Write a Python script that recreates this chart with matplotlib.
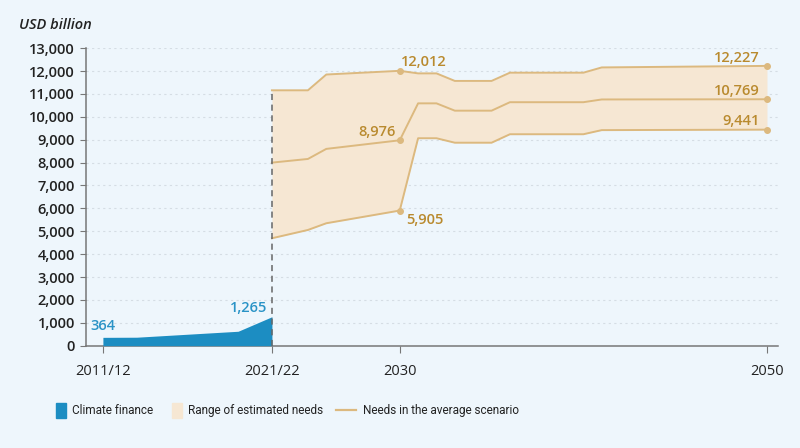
import numpy as np
import matplotlib
matplotlib.use("Agg")
import matplotlib.pyplot as plt
from matplotlib.patches import Rectangle
from matplotlib.lines import Line2D

# climate finance (biennial averages), USD billion
finance_years = [2011.5, 2013.5, 2019.5, 2021.5]
finance_values = [364, 370, 630, 1265]

# estimated needs
needs_years = [2021.5, 2025, 2026, 2030, 2031, 2032, 2033, 2035, 2036, 2040, 2041, 2050]
needs_high = [11160, 11160, 11850, 12012, 11900, 11900, 11570, 11570, 11930, 11930, 12160, 12227]
needs_avg = [8000, 8160, 8600, 8976, 10590, 10590, 10270, 10270, 10640, 10640, 10760, 10769]
needs_low = [4694, 5057, 5350, 5905, 9065, 9065, 8870, 8870, 9240, 9240, 9420, 9441]

tick_years = [2011.5, 2021.5, 2030, 2050]
tick_labels = ["2011/12", "2021/22", "2030", "2050"]

BG = "#eef6fc"
BLUE = "#1c8dc2"
BLUE_TXT = "#2a93c6"
BEIGE = "#f6e7d3"
TAN = "#dcb97f"
GOLD = "#b98a2e"

plt.rcParams["font.family"] = ["Open Sans", "DejaVu Sans"]

# the source axis is not linear in time: map years piecewise
anchors_x = [2000, 2011.5, 2021.5, 2025, 2050, 2060]
anchors_u = [103 - 11.5 * 16.9, 103, 272, 308, 767, 767 + 10 * 18.36]


def fwd(x):
    return np.interp(x, anchors_x, anchors_u)


def inv(u):
    return np.interp(u, anchors_u, anchors_x)


fig = plt.figure(figsize=(8, 4.48), dpi=100, facecolor=BG)
ax = fig.add_axes([0.1075, 0.2284, 0.865, 0.664])
ax.set_facecolor(BG)
ax.set_xscale("function", functions=(fwd, inv))

ax.fill_between(finance_years, 0, finance_values, color=BLUE, lw=0, zorder=3)
ax.fill_between(needs_years, needs_low, needs_high, color=BEIGE, lw=0, zorder=2)
for vals in (needs_high, needs_avg, needs_low):
    ax.plot(needs_years, vals, color=TAN, lw=1.4, zorder=4)
    ax.plot([needs_years[3], needs_years[-1]], [vals[3], vals[-1]], "o",
            color=TAN, ms=4, zorder=5)

ax.plot([2021.5, 2021.5], [0, needs_high[0]], color="#666666", lw=1.1,
        ls=(0, (4, 3)), zorder=6)

ax.set_xlim(2010.5, 2050.6)
ax.set_ylim(0, 13000)
ax.set_yticks(np.arange(0, 13001, 1000))
ax.set_yticklabels([f"{v:,}" for v in range(0, 13001, 1000)])
ax.set_xticks(tick_years)
ax.set_xticklabels(tick_labels)
ax.yaxis.grid(True, color="#d5dde4", lw=0.8, ls=(0, (2, 3)))
ax.set_axisbelow(True)
for s in ("top", "right"):
    ax.spines[s].set_visible(False)
for s in ("left", "bottom"):
    ax.spines[s].set_color("#777777")
    ax.spines[s].set_linewidth(1.1)
ax.tick_params(axis="y", length=4, color="#777777", labelsize=10.5,
               labelcolor="#222222", pad=4)
ax.tick_params(axis="x", length=5, color="#777777", labelsize=10.5,
               labelcolor="#222222", pad=8)
for t in ax.get_yticklabels():
    t.set_fontweight("semibold")

# value labels
lab = dict(fontsize=10.5, fontweight="semibold")
ax.annotate("364", (finance_years[0], finance_values[0]), xytext=(0, 3),
            textcoords="offset points", ha="center", va="bottom", color=BLUE_TXT, **lab)
ax.annotate("1,265", (finance_years[-1], finance_values[-1]), xytext=(-3, 1),
            textcoords="offset points", ha="right", va="bottom", color=BLUE_TXT, **lab)
ax.annotate("12,012", (needs_years[3], needs_high[3]), xytext=(1, 1),
            textcoords="offset points", ha="left", va="bottom", color=GOLD, **lab)
ax.annotate("8,976", (needs_years[3], needs_avg[3]), xytext=(-3, 1),
            textcoords="offset points", ha="right", va="bottom", color=GOLD, **lab)
ax.annotate("5,905", (needs_years[3], needs_low[3]), xytext=(5, -2),
            textcoords="offset points", ha="left", va="top", color=GOLD, **lab)
for vals in (needs_high, needs_avg, needs_low):
    ax.annotate(f"{vals[-1]:,}", (needs_years[-1], vals[-1]), xytext=(-5, 1),
                textcoords="offset points", ha="right", va="bottom", color=GOLD, **lab)

fig.text(0.024, 0.944, "USD billion", fontsize=10.5, fontstyle="italic",
         fontweight="semibold", color="#222222", va="center")

# legend
leg_font = dict(fontsize=8.5, color="#222222", va="center",
                family=["Roboto", "DejaVu Sans"])
ly = 1 - 410 / 448
fig.patches.append(Rectangle((56 / 800, 1 - 418 / 448), 10 / 800, 15 / 448,
                             transform=fig.transFigure, color=BLUE))
fig.text(72 / 800, ly, "Climate finance", **leg_font)
fig.patches.append(Rectangle((172 / 800, 1 - 418 / 448), 10 / 800, 15 / 448,
                             transform=fig.transFigure, color=BEIGE))
fig.text(188 / 800, ly, "Range of estimated needs", **leg_font)
fig.lines.append(Line2D([336 / 800, 356 / 800], [ly, ly], transform=fig.transFigure,
                        color=TAN, lw=1.6))
fig.text(363 / 800, ly, "Needs in the average scenario", **leg_font)

fig.savefig("out.png", dpi=100, facecolor=BG)
